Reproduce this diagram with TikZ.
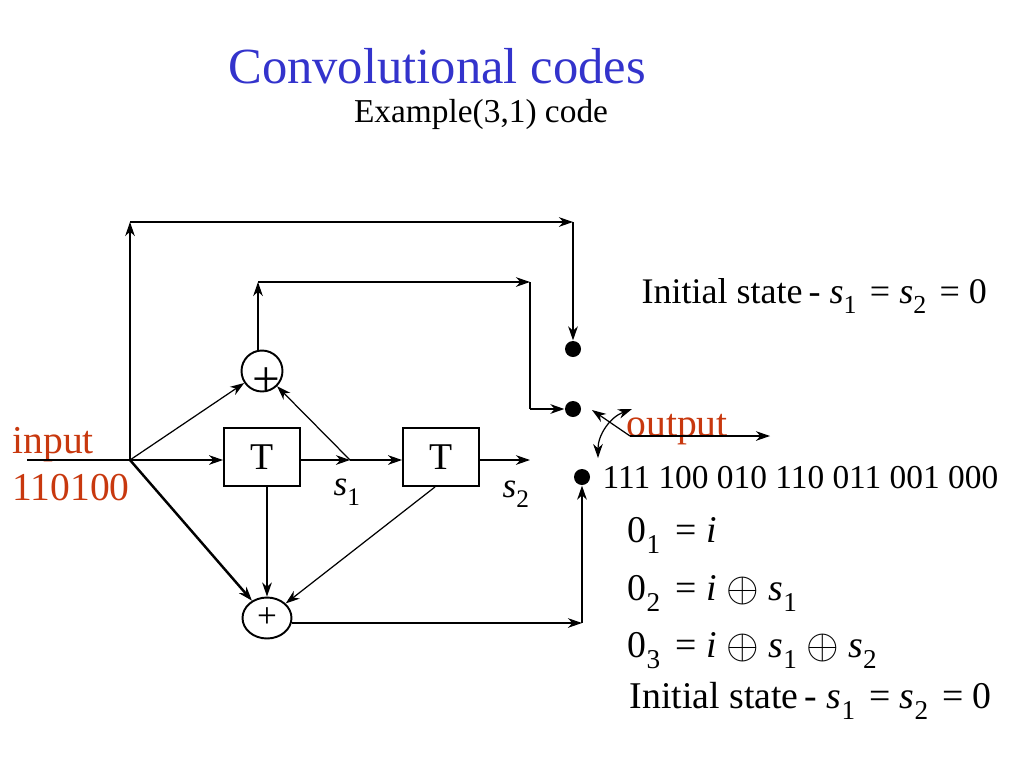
\documentclass[tikz,border=0pt]{standalone}
\usepackage{fontspec}
\setmainfont{Liberation Serif}
\usepackage{xcolor}
\usetikzlibrary{arrows.meta}
\usetikzlibrary{shapes.geometric}
\usetikzlibrary{calc}
\definecolor{titleblue}{RGB}{51,51,204}
\definecolor{iored}{RGB}{200,56,14}
\newcommand{\fsz}[1]{\fontsize{#1}{#1}\selectfont}
\newcommand{\lowsub}[1]{\raisebox{-0.3em}{\scalebox{0.72}{#1}}}
\newcommand{\sv}[1]{\textit{s}\lowsub{#1}}
\newcommand{\xo}{\kern0.25em\raisebox{-0.05em}{\scalebox{1.15}{$\oplus$}}\kern0.25em}
\tikzset{
	delay/.style={draw, line width=1.1pt, minimum width=1.52cm, minimum height=1.16cm, inner sep=0pt, font=\fsz{21.5}},
	adder/.style={draw, circle, line width=1.1pt, minimum size=0.82cm, inner sep=0pt},
	adderb/.style={draw, ellipse, line width=1.1pt, minimum width=0.98cm, minimum height=0.82cm, inner sep=0pt, font=\fsz{20}},
	tap/.style={circle, fill, minimum size=0.32cm, inner sep=0pt},
	txt/.style={inner sep=0pt, anchor=base west},
	iotext/.style={txt, text=iored, font=\fsz{22.5}}
}

\begin{document}
\begin{tikzpicture}[x=0.02cm, y=-0.02cm, line width=0.7pt, >={Stealth[length=8pt, width=5.5pt, inset=2.5pt]}]
	\useasboundingbox (0,0) rectangle (1024,768);
	\node[inner sep=0pt, anchor=base, text=titleblue, font=\fsz{28.8}] (title) at (437,83) {Convolutional codes};
	\node[inner sep=0pt, anchor=base, font=\fsz{19}] (subtitle) at (481,122) {Example(3,1) code};

	\node[iotext] (inlbl) at (12,453) {input};
	\node[iotext] (inbits) at (12,500) {110100};
	\node[iotext] (outlbl) at (626,436) {output};

	\coordinate (in0) at (27,460);
	\coordinate (J) at (130,460);
	\coordinate (s1pt) at (350,460);
	\coordinate (s2pt) at (530,460);
	\coordinate (top1) at (130,222);
	\coordinate (top2) at (573,222);
	\coordinate (mid1) at (258,282);
	\coordinate (mid2) at (530,282);
	\coordinate (mid3) at (530,409);
	\coordinate (bot1) at (582,623);
	\coordinate (sw0) at (592,410);
	\coordinate (sw1) at (630,436);
	\coordinate (out) at (770,436);
	\coordinate (rot1) at (632,409);
	\coordinate (rot2) at (598,458);

	\node[delay] (T1) at (262,457) {T};
	\node[delay] (T2) at (441,457) {T};
	\node[adder] (A1) at (262,371) {};
	\node[inner sep=0pt, font=\fsz{28}] (plus1) at (266,382) {+};
	\node[adderb] (A2) at (267,618) {+};
	\node[tap] (D1) at (573,349) {};
	\node[tap] (D2) at (573,409) {};
	\node[tap] (D3) at (582,477) {};

	\node[txt, font=\fsz{20}] (ls1) at (333,495) {\sv{1}};
	\node[txt, font=\fsz{20}] (ls2) at (502,497) {\sv{2}};

	\draw (in0) -- (J);
	\draw[->] (J) -- (T1.west |- J);
	\draw[->] (T1.east |- J) -- (s1pt);
	\draw[->] (s1pt) -- (T2.west |- J);
	\draw[->] (T2.east |- J) -- (s2pt);
	\draw[->] (J) -- (A1);
	\draw[->] (s1pt) -- (A1);
	\draw[->] (A1.north -| mid1) -- (mid1);
	\draw[->] (mid1) -- (mid2);
	\draw (mid2) -- (mid3);
	\draw[->] (mid3) -- (D2);
	\draw[->] (J) -- (top1);
	\draw[->] (top1) -- (top2);
	\draw[->] (top2) -- (D1);
	\draw[->, line width=1.4pt] (J) -- (A2);
	\draw[->] (T1.south -| A2) -- (A2);
	\draw[->] ($(T2.south)+(-6,0)$) -- (A2);
	\draw[->] (A2.east |- bot1) -- (bot1);
	\draw[->] (bot1) -- (D3);
	\draw[<-] (sw0) -- (sw1);
	\draw[->] (sw1) -- (out);
	\draw[<->] (rot1) to[bend right=35] (rot2);

	\node[txt, font=\fsz{19}] (bits) at (602,488) {111 100 010 110 011 001 000};
	\node[txt, font=\fsz{20.5}] (init1) at (641,303) {Initial state\,- \sv{1}\kern0.12em{} = \sv{2}\kern0.12em{} = 0};
	\node[txt, font=\fsz{21.5}] (eq1) at (627,542) {0\lowsub{1}\, = \textit{i}};
	\node[txt, font=\fsz{21.5}] (eq2) at (627,600) {0\lowsub{2}\, = \textit{i}\xo\sv{1}};
	\node[txt, font=\fsz{21.5}] (eq3) at (627,657) {0\lowsub{3}\, = \textit{i}\xo\sv{1}\xo\sv{2}};
	\node[txt, font=\fsz{21.5}] (init2) at (629,708) {Initial state\,- \sv{1}\kern0.12em{} = \sv{2}\kern0.12em{} = 0};
\end{tikzpicture}
\end{document}
